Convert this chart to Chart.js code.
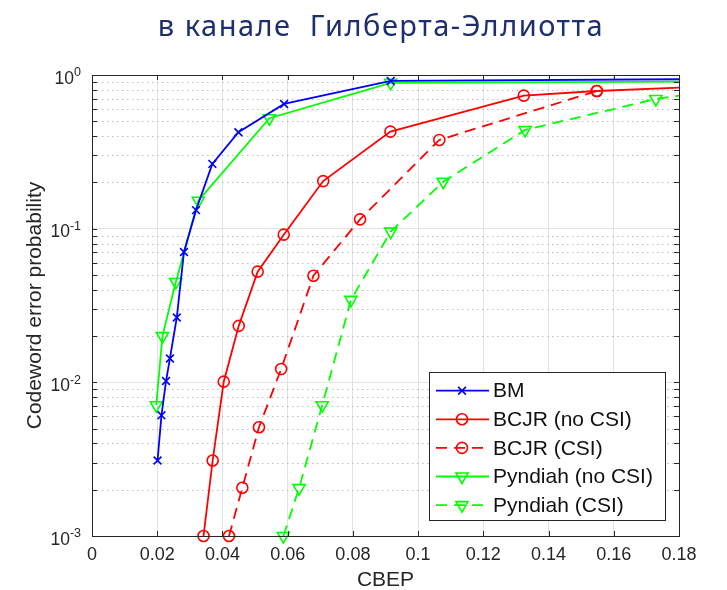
<!DOCTYPE html>
<html lang="ru">
<head>
<meta charset="UTF-8">
<title>Codeword error probability</title>
<script src="https://cdn.jsdelivr.net/npm/chart.js"></script>
<style>
    html, body { margin: 0; padding: 0; background: #fff; }
    .chart-container { position: relative; width: 727px; height: 590px; }
</style>
</head>
<body>
<div class="chart-container">
    <canvas id="cwChart" width="727" height="590"></canvas>
</div>
<script>
// BM
const bmCbep = [0.0201, 0.0213, 0.0227, 0.0239, 0.0260, 0.0282, 0.0319, 0.0369, 0.0449, 0.0589, 0.0916, 0.18];
const bmErr  = [0.0031, 0.0061, 0.0102, 0.0143, 0.0264, 0.0705, 0.132, 0.264, 0.424, 0.648, 0.915, 0.938];

// BCJR без информации о состоянии канала
const bcjrCbep = [0.0342, 0.0370, 0.0404, 0.0450, 0.0508, 0.0588, 0.0709, 0.0915, 0.1324, 0.1548, 0.18];
const bcjrErr  = [0.0010, 0.0031, 0.0101, 0.0233, 0.0525, 0.0914, 0.204, 0.428, 0.734, 0.787, 0.827];

// BCJR с информацией о состоянии канала
const bcjrCsiCbep = [0.0420, 0.0461, 0.0512, 0.0580, 0.0679, 0.0822, 0.1065, 0.1548];
const bcjrCsiErr  = [0.0010, 0.00206, 0.0051, 0.0122, 0.0494, 0.115, 0.378, 0.787];

// Pyndiah без CSI
const pynCbep = [0.0197, 0.0216, 0.0257, 0.0326, 0.0544, 0.0916, 0.18];
const pynErr  = [0.0071, 0.0200, 0.0450, 0.152, 0.523, 0.89, 0.905];

// Pyndiah с CSI
const pynCsiCbep = [0.0587, 0.0635, 0.0706, 0.0794, 0.0916, 0.1077, 0.1328, 0.1729, 0.18];
const pynCsiErr  = [0.0010, 0.00205, 0.0071, 0.0344, 0.0957, 0.202, 0.439, 0.698, 0.733];

const xTicks = [0, 0.02, 0.04, 0.06, 0.08, 0.1, 0.12, 0.14, 0.16, 0.18];
const yDecades = [0.001, 0.01, 0.1, 1];
const yTickBase = '10';
const yTickExp = ['-3', '-2', '-1', '0'];

const titleText = 'в канале  Гилберта-Эллиотта';
const FONT = '"Liberation Sans", Arial, sans-serif';
const INK = '#262626';

const toPoints = (xs, ys) => xs.map((x, i) => ({ x: x, y: ys[i] }));
// точки на правой границе рисуются без маркера
const markerSizes = (xs, r) => xs.map(x => (x >= 0.18 ? 0 : r));

// малые деления логарифмической шкалы
const yMinor = [];
yDecades.slice(0, -1).forEach(d => {
    for (let m = 2; m <= 9; m++) yMinor.push(m * d);
});

function series(label, xs, ys, color, style, radius, dashed) {
    return {
        label: label,
        data: toPoints(xs, ys),
        borderColor: color,
        borderWidth: 1.8,
        borderDash: dashed ? [11, 7] : [],
        backgroundColor: 'rgba(0,0,0,0)',
        pointStyle: style,
        pointRotation: style === 'triangle' ? 180 : 0,
        pointRadius: markerSizes(xs, radius),
        pointBorderWidth: 1.6,
        pointBorderColor: color,
        pointBackgroundColor: 'rgba(0,0,0,0)',
        fill: false,
        tension: 0,
        clip: false
    };
}

// маркер для легенды
function drawMarker(ctx, style, r, cx, cy) {
    ctx.beginPath();
    if (style === 'circle') {
        ctx.arc(cx, cy, r, 0, Math.PI * 2);
    } else if (style === 'crossRot') {
        const d = r * Math.SQRT1_2;
        ctx.moveTo(cx - d, cy - d); ctx.lineTo(cx + d, cy + d);
        ctx.moveTo(cx - d, cy + d); ctx.lineTo(cx + d, cy - d);
    } else if (style === 'triangle') {
        const h = r * Math.sqrt(3) / 2;
        ctx.moveTo(cx, cy + r);
        ctx.lineTo(cx - h, cy - r / 2);
        ctx.lineTo(cx + h, cy - r / 2);
        ctx.closePath();
    }
    ctx.stroke();
}

const decor = {
    id: 'decor',
    beforeDatasetsDraw(chart) {
        const { ctx, chartArea: a, scales: { y } } = chart;
        ctx.save();
        ctx.strokeStyle = '#bdbdbd';
        ctx.lineWidth = 1;
        ctx.setLineDash([1.5, 3.5]);
        yMinor.forEach(v => {
            const py = Math.round(y.getPixelForValue(v)) + 0.5;
            ctx.beginPath();
            ctx.moveTo(a.left, py);
            ctx.lineTo(a.right, py);
            ctx.stroke();
        });
        ctx.restore();
    },
    afterDatasetsDraw(chart) {
        const { ctx, chartArea: a, scales: { x, y } } = chart;
        ctx.save();
        ctx.strokeStyle = INK;
        ctx.lineWidth = 1;
        const tl = 5;
        ctx.beginPath();
        xTicks.forEach(v => {
            const px = Math.round(x.getPixelForValue(v)) + 0.5;
            ctx.moveTo(px, a.bottom); ctx.lineTo(px, a.bottom - tl);
            ctx.moveTo(px, a.top); ctx.lineTo(px, a.top + tl);
        });
        yDecades.concat(yMinor).forEach(v => {
            const py = Math.round(y.getPixelForValue(v)) + 0.5;
            ctx.moveTo(a.left, py); ctx.lineTo(a.left + tl, py);
            ctx.moveTo(a.right, py); ctx.lineTo(a.right - tl, py);
        });
        ctx.stroke();
        ctx.strokeRect(a.left + 0.5, a.top + 0.5, a.right - a.left, a.bottom - a.top);

        // подписи 10^n
        ctx.fillStyle = INK;
        ctx.textBaseline = 'middle';
        yDecades.forEach((v, i) => {
            const py = y.getPixelForValue(v);
            ctx.font = '12.5px ' + FONT;
            const ew = ctx.measureText(yTickExp[i]).width;
            const ex = a.left - 11 - ew;
            ctx.textAlign = 'left';
            ctx.fillText(yTickExp[i], ex, py - 2);
            ctx.font = '17.5px ' + FONT;
            ctx.textAlign = 'right';
            ctx.fillText(yTickBase, ex, py + 4);
        });

        // легенда
        const box = { left: 429, top: 372, right: 665, bottom: 520 };
        ctx.fillStyle = '#fff';
        ctx.fillRect(box.left, box.top, box.right - box.left, box.bottom - box.top);
        ctx.strokeStyle = INK;
        ctx.lineWidth = 1;
        ctx.strokeRect(box.left + 0.5, box.top + 0.5, box.right - box.left, box.bottom - box.top);
        chart.data.datasets.forEach((ds, i) => {
            const ly = 390.7 + i * 28.6;
            ctx.save();
            ctx.strokeStyle = ds.borderColor;
            ctx.lineWidth = ds.borderWidth;
            ctx.setLineDash(ds.borderDash);
            ctx.beginPath();
            ctx.moveTo(436, ly);
            ctx.lineTo(489, ly);
            ctx.stroke();
            ctx.setLineDash([]);
            ctx.lineWidth = ds.pointBorderWidth;
            drawMarker(ctx, ds.pointStyle, ds.pointRadius[0], 462, ly);
            ctx.restore();
            ctx.fillStyle = '#111';
            ctx.font = '21px ' + FONT;
            ctx.textAlign = 'left';
            ctx.textBaseline = 'middle';
            ctx.fillText(ds.label, 493, ly + 1);
        });
        ctx.restore();
    },
    afterDraw(chart) {
        const { ctx } = chart;
        ctx.save();
        ctx.fillStyle = '#1d2f6f';
        ctx.font = '29px "Noto Sans", sans-serif';
        ctx.letterSpacing = '1.5px';
        ctx.textAlign = 'center';
        ctx.textBaseline = 'alphabetic';
        ctx.fillText(titleText, 381, 36);
        ctx.restore();
    }
};

new Chart(document.getElementById('cwChart'), {
    type: 'line',
    data: {
        datasets: [
            series('BM', bmCbep, bmErr, '#0000ff', 'crossRot', 5.5, false),
            series('BCJR (no CSI)', bcjrCbep, bcjrErr, '#ff0000', 'circle', 5.5, false),
            series('BCJR (CSI)', bcjrCsiCbep, bcjrCsiErr, '#ff0000', 'circle', 5.5, true),
            series('Pyndiah (no CSI)', pynCbep, pynErr, '#00ff00', 'triangle', 7, false),
            series('Pyndiah (CSI)', pynCsiCbep, pynCsiErr, '#00ff00', 'triangle', 7, true)
        ]
    },
    plugins: [decor],
    options: {
        responsive: false,
        animation: false,
        devicePixelRatio: 1,
        layout: { padding: { left: 0, right: 48, top: 75, bottom: 0 } },
        plugins: {
            legend: { display: false },
            tooltip: { enabled: false }
        },
        scales: {
            x: {
                type: 'linear',
                min: 0,
                max: 0.18,
                afterBuildTicks: s => { s.ticks = xTicks.map(v => ({ value: v })); },
                afterFit: s => { s.height = 54; },
                ticks: {
                    callback: v => (v === 0 ? '0' : String(+v.toFixed(2))),
                    font: { family: FONT, size: 18 },
                    color: INK,
                    padding: 8,
                    maxRotation: 0,
                    autoSkip: false
                },
                grid: { color: '#e2e2e2', lineWidth: 1, drawTicks: false },
                border: { display: false },
                title: {
                    display: true,
                    text: 'CBEP',
                    color: INK,
                    font: { family: FONT, size: 21, lineHeight: 1 },
                    padding: { top: 0, bottom: -1 }
                }
            },
            y: {
                type: 'logarithmic',
                min: 0.001,
                max: 1,
                afterBuildTicks: s => { s.ticks = yDecades.map(v => ({ value: v, major: true })); },
                afterFit: s => { s.width = 92; },
                ticks: { display: false },
                grid: { color: '#e2e2e2', lineWidth: 1, drawTicks: false },
                border: { display: false },
                title: {
                    display: true,
                    text: 'Codeword error probability',
                    color: INK,
                    font: { family: FONT, size: 21, lineHeight: 1 },
                    padding: { top: 25, bottom: 0 }
                }
            }
        }
    }
});
</script>
</body>
</html>
